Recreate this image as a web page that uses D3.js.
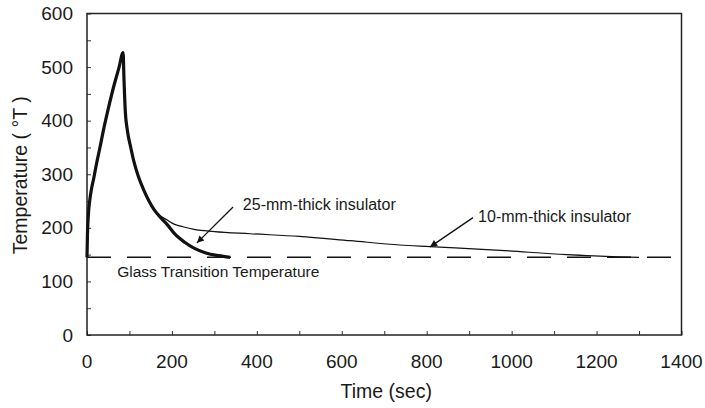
<!DOCTYPE html>
<html>
<head>
<meta charset="utf-8">
<script src="https://cdn.jsdelivr.net/npm/d3@7"></script>
<style>
  body { margin: 0; background: #fff; }
  text { font-family: "Liberation Sans", Arial, sans-serif; fill: #1a1a1a; }
</style>
</head>
<body>
<div id="chart"></div>
<script>
// curve data (time in sec, temperature)
const thickTime = [0, 1, 3, 6, 10, 16, 23, 30, 40, 50, 64, 75, 85, 87, 90, 95, 103, 111, 120, 134, 158, 170, 190, 205, 230, 252, 280, 310, 337];
const thickTemp = [145, 185, 222, 248, 270, 293, 322, 348, 387, 422, 467, 498, 527, 480, 420, 382, 350, 322, 298, 270, 234, 222, 205, 190, 173, 162, 153, 148, 145];
const thinTime = [0, 1, 3, 6, 10, 16, 23, 30, 40, 50, 64, 75, 85, 87, 90, 95, 103, 111, 120, 134, 158, 170, 190, 205, 226, 252, 300, 384, 500, 620, 737, 808, 973, 1130, 1250, 1300];
const thinTemp = [145, 185, 222, 248, 270, 293, 322, 348, 387, 422, 467, 498, 527, 480, 420, 382, 350, 322, 298, 270, 234, 224, 214, 207, 202, 197, 193, 189, 184, 176, 168, 165, 158, 150, 146, 145];
const glassTemp = 145;
const xTicks = [0, 200, 400, 600, 800, 1000, 1200, 1400];
const yTicks = [0, 100, 200, 300, 400, 500, 600];

const margin = {top: 13.5, right: 23.5, bottom: 73, left: 87},
      width = 705 - margin.left - margin.right,
      height = 408 - margin.top - margin.bottom;

const svg = d3.select("#chart")
              .append("svg")
              .attr("width", 705)
              .attr("height", 408)
              .append("g")
              .attr("transform", `translate(${margin.left},${margin.top})`);

const x = d3.scaleLinear().domain([0, 1400]).range([0, width]);
const y = d3.scaleLinear().domain([0, 600]).range([height, 0]);

// inner ticks
svg.append("g")
   .attr("transform", `translate(0,${height})`)
   .call(d3.axisBottom(x).tickValues(d3.range(0, 1401, 100)).tickSize(-4).tickFormat(""))
   .call(g => g.select(".domain").remove())
   .selectAll("line").attr("stroke", "#333");
svg.append("g")
   .call(d3.axisLeft(y).tickValues(d3.range(0, 601, 50)).tickSize(-4).tickFormat(""))
   .call(g => g.select(".domain").remove())
   .selectAll("line").attr("stroke", "#333");

// frame
svg.append("rect")
   .attr("width", width).attr("height", height)
   .attr("fill", "none").attr("stroke", "#222").attr("stroke-width", 1.5);

// tick labels
svg.selectAll(".xlab").data(xTicks).enter().append("text")
   .attr("x", d => x(d)).attr("y", height + 33)
   .attr("text-anchor", "middle").style("font-size", "19px")
   .text(d => d);
svg.selectAll(".ylab").data(yTicks).enter().append("text")
   .attr("x", -14).attr("y", d => y(d)).attr("dy", "0.35em")
   .attr("text-anchor", "end").style("font-size", "19px")
   .text(d => d);

// axis titles
svg.append("text")
   .attr("x", width / 2 + 2).attr("y", height + 63)
   .attr("text-anchor", "middle").style("font-size", "19.5px")
   .text("Time (sec)");
svg.append("text")
   .attr("transform", `translate(${-60},${y(300) + 1}) rotate(-90)`)
   .attr("text-anchor", "middle").style("font-size", "19.5px")
   .text("Temperature ( °T )");

// glass transition line
svg.append("line")
   .attr("x1", 0).attr("x2", width)
   .attr("y1", y(glassTemp)).attr("y2", y(glassTemp))
   .attr("stroke", "#111").attr("stroke-width", 1.6)
   .attr("stroke-dasharray", "24 16");

const line = d3.line().x(d => x(d[0])).y(d => y(d[1])).curve(d3.curveMonotoneX);
const thinData = thinTime.map((t, i) => [t, thinTemp[i]]);
const thickData = thickTime.map((t, i) => [t, thickTemp[i]]);

svg.append("path").datum(thinData)
   .attr("d", line)
   .attr("fill", "none").attr("stroke", "#111").attr("stroke-width", 1.2);
svg.append("path").datum(thickData)
   .attr("d", line)
   .attr("fill", "none").attr("stroke", "#111").attr("stroke-width", 3.2)
   .attr("stroke-linejoin", "round");

// annotations
svg.append("defs").append("marker")
   .attr("id", "arrow").attr("viewBox", "0 0 10 10")
   .attr("refX", 10).attr("refY", 5)
   .attr("markerWidth", 12).attr("markerHeight", 7)
   .attr("markerUnits", "userSpaceOnUse")
   .attr("orient", "auto")
   .append("path").attr("d", "M0,0 L10,5 L0,10 z").attr("fill", "#111");

const notes = [
  {text: "25-mm-thick insulator", tx: 367, ty: 234, from: [344, 239], to: [259, 172]},
  {text: "10-mm-thick insulator", tx: 921, ty: 211, from: [909, 219], to: [808, 164.5]}
];
notes.forEach(n => {
  svg.append("line")
     .attr("x1", x(n.from[0])).attr("y1", y(n.from[1]))
     .attr("x2", x(n.to[0])).attr("y2", y(n.to[1]))
     .attr("stroke", "#111").attr("stroke-width", 1.3)
     .attr("marker-end", "url(#arrow)");
  svg.append("text")
     .attr("x", x(n.tx)).attr("y", y(n.ty))
     .style("font-size", "16px")
     .text(n.text);
});

svg.append("text")
   .attr("x", x(71)).attr("y", y(108))
   .style("font-size", "15.5px")
   .text("Glass Transition Temperature");
</script>
</body>
</html>
